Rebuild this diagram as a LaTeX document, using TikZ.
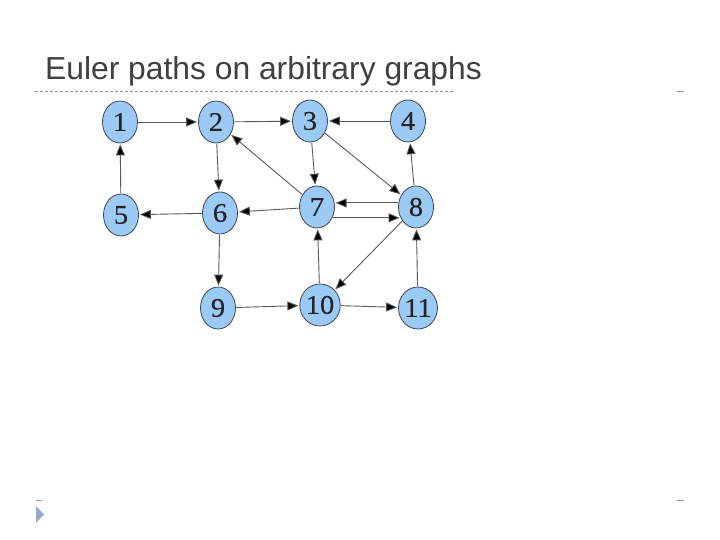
\documentclass[tikz,border=0pt]{standalone}
\usepackage{fontspec}
\setmainfont{Liberation Serif}
\newfontfamily\titlefont{Liberation Sans}
\newfontfamily\numfont[FakeStretch=1.06,FakeBold=0.3]{Liberation Serif}
\usetikzlibrary{shapes.geometric,arrows.meta}
\definecolor{nodefill}{RGB}{155,202,247}
\definecolor{nodeline}{RGB}{60,70,85}
\definecolor{titlegray}{RGB}{64,64,64}
\definecolor{tri}{RGB}{150,172,200}
\tikzset{
  vert/.style={ellipse,draw=nodeline,line width=0.8pt,fill=nodefill,minimum width=35pt,minimum height=42pt,inner sep=0pt,font=\numfont\fontsize{27}{27}\selectfont,text=black!85},
  edge/.style={draw=black!65,line width=0.9pt,-{Triangle[length=11pt,width=9pt,fill=black]},shorten >=1pt,shorten <=0.5pt},
}
\begin{document}
\begin{tikzpicture}[x=1pt,y=-1pt]
\useasboundingbox[fill=white] (0,0) rectangle (720,540);
\node[anchor=base west,text=titlegray,font=\titlefont\fontsize{31.8}{31.8}\selectfont,inner sep=0pt] (title) at (45,80) {Euler paths on arbitrary graphs};
\draw[black!40,dash pattern=on 3pt off 2pt,line width=0.6pt] (35,91) -- (455,91);
\draw[black!40,line width=0.6pt] (677,91) -- (684,91);
\draw[black!40,line width=0.6pt] (36,500) -- (42,500);
\draw[black!40,line width=0.6pt] (677,500) -- (684,500);
\fill[tri] (36,506) -- (44,514.5) -- (36,523) -- cycle;
\node[vert] (n1) at (120,122) {1};
\node[vert] (n2) at (216,122) {2};
\node[vert] (n3) at (310,121) {3};
\node[vert] (n4) at (408,121) {4};
\node[vert] (n5) at (121,215) {5};
\node[vert] (n6) at (220,213) {6};
\node[vert] (n7) at (317,207) {7};
\node[vert] (n8) at (416,207) {8};
\node[vert] (n9) at (218,308) {9};
\node[vert] (n10) at (320,305) {10};
\node[vert] (n11) at (418,308) {11};
\draw[edge] (n1) -- (n2);
\draw[edge] (n2) -- (n3);
\draw[edge] (n4) -- (n3);
\draw[edge] (n2.-88) -- (n6.93);
\draw[edge] (n3) -- (n7);
\draw[edge] (n3) -- (n8);
\draw[edge] (n7) -- (n2);
\draw[edge] (n8) -- (n4);
\draw[edge] (n5) -- (n1);
\draw[edge] (n6) -- (n5);
\draw[edge] (n7) -- (n6);
\draw[edge] (n8.167) -- (n7.13);
\draw[edge] (n7.-35) -- (n8.-145);
\draw[edge] (n6) -- (n9);
\draw[edge] (n10) -- (n7);
\draw[edge] (n8) -- (n10);
\draw[edge] (n11) -- (n8);
\draw[edge] (n9) -- (n10);
\draw[edge] (n10) -- (n11);
\end{tikzpicture}
\end{document}
